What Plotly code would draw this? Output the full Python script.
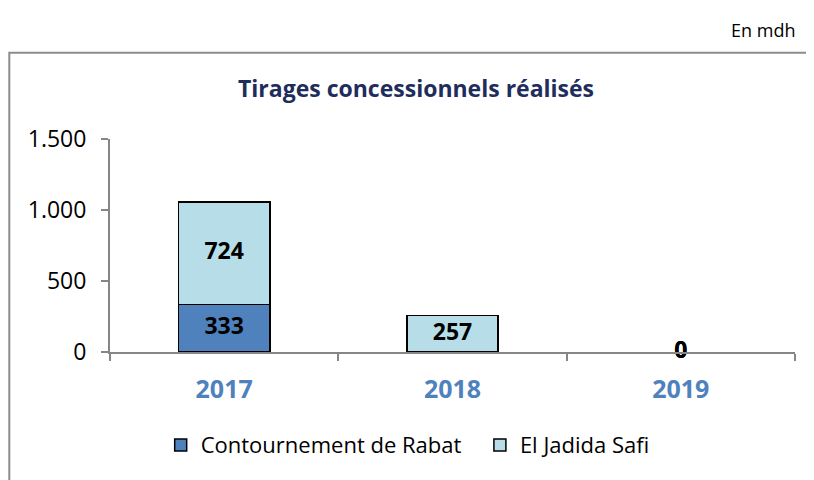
import plotly.graph_objects as go

years = ["2017", "2018", "2019"]
contournement = [333, None, 0]
el_jadida = [724, 257, 0]
series_names = ["Contournement de Rabat", "El Jadida Safi"]
y_ticks = [0, 500, 1000, 1500]
y_tick_labels = ["0", "500", "1.000", "1.500"]

c_dark = "#4F81BD"
c_light = "#B7DEE8"
font_fam = "Open Sans, Liberation Sans, sans-serif"


def outline_widths(vals):
    return [0 if (v is None or v == 0) else 1.5 for v in vals]


fig = go.Figure()
fig.add_trace(go.Bar(x=years, y=contournement, name=series_names[0], legend="legend",
                     marker=dict(color=c_dark, line=dict(color="black", width=outline_widths(contournement)))))
fig.add_trace(go.Bar(x=years, y=el_jadida, name=series_names[1], legend="legend2",
                     marker=dict(color=c_light, line=dict(color="black", width=outline_widths(el_jadida)))))

# data labels at segment midpoints
lab_x, lab_y, lab_t = [], [], []
for i, yr in enumerate(years):
    base = 0
    for vals in (contournement, el_jadida):
        v = vals[i]
        if v is None:
            continue
        lab_x.append(yr)
        lab_y.append(base + v / 2)
        lab_t.append(f"{v:,}".replace(",", "."))
        base += v
fig.add_trace(go.Scatter(x=lab_x, y=lab_y, text=lab_t, mode="text", showlegend=False,
                         textfont=dict(family=font_fam, size=23, color="black", weight="bold"),
                         hoverinfo="skip", cliponaxis=False))

leg_common = dict(orientation="h", xanchor="left", y=-0.437, yanchor="middle",
                  font=dict(size=22), itemwidth=30, bgcolor="rgba(0,0,0,0)")

fig.update_layout(
    width=814, height=480,
    margin=dict(l=102, r=27, t=131, b=136, autoexpand=False),
    barmode="stack", bargap=0.6,
    plot_bgcolor="white", paper_bgcolor="white",
    font=dict(family=font_fam, size=20, color="black"),
    showlegend=True,
    legend=dict(x=0.074, **leg_common),
    legend2=dict(x=0.540, **leg_common),
    annotations=[
        dict(text="<b>Tirages concessionnels réalisés</b>", xref="paper", yref="paper",
             x=0.447, y=1.239, xanchor="center", yanchor="middle", showarrow=False,
             font=dict(size=23, color="#1F2D5C", family=font_fam)),
        dict(text="En mdh", xref="paper", yref="paper", x=1.003,
             y=1.512, xanchor="right", yanchor="middle", showarrow=False,
             font=dict(size=18, color="black", family=font_fam)),
    ],
    shapes=[dict(type="rect", xref="paper", yref="paper",
                 x0=-0.147, x1=1.1, y0=-0.8, y1=1.405,
                 line=dict(color="#8C8C8C", width=2), fillcolor="rgba(0,0,0,0)", layer="below")],
)
fig.update_xaxes(showline=True, linecolor="#868686", linewidth=2, ticks="outside",
                 tickson="boundaries", ticklen=7, tickcolor="#868686", tickwidth=2,
                 ticklabelstandoff=14,
                 tickfont=dict(size=25, color=c_dark, weight="bold"), showgrid=False)
fig.update_yaxes(range=[0, 1500], tickvals=y_ticks, ticktext=y_tick_labels, showline=True,
                 linecolor="#868686", linewidth=2, ticks="outside", ticklen=7,
                 tickcolor="#868686", tickwidth=2, showgrid=False, zeroline=False,
                 ticklabelstandoff=10,
                 tickfont=dict(size=23, color="black"))

fig.write_html("out.html")
